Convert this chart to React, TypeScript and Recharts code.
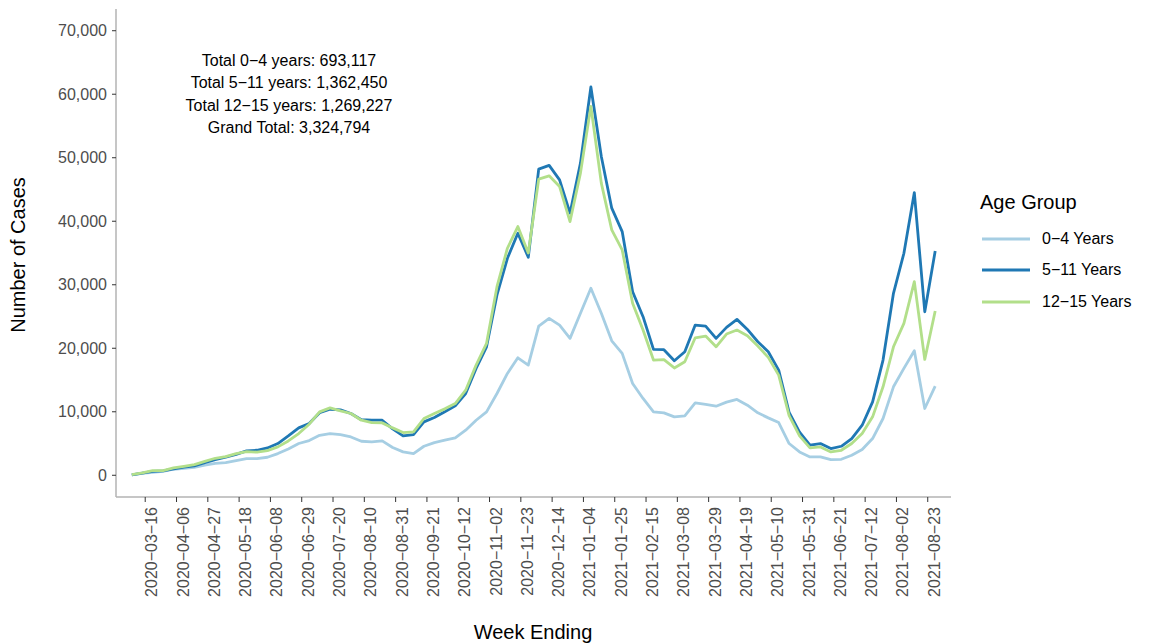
import { Line, LineChart, XAxis, YAxis } from "recharts"

const weekEnding = [
  "2020-03-07", "2020-03-14", "2020-03-21", "2020-03-28", "2020-04-04", "2020-04-11",
  "2020-04-18", "2020-04-25", "2020-05-02", "2020-05-09", "2020-05-16", "2020-05-23",
  "2020-05-30", "2020-06-06", "2020-06-13", "2020-06-20", "2020-06-27", "2020-07-04",
  "2020-07-11", "2020-07-18", "2020-07-25", "2020-08-01", "2020-08-08", "2020-08-15",
  "2020-08-22", "2020-08-29", "2020-09-05", "2020-09-12", "2020-09-19", "2020-09-26",
  "2020-10-03", "2020-10-10", "2020-10-17", "2020-10-24", "2020-10-31", "2020-11-07",
  "2020-11-14", "2020-11-21", "2020-11-28", "2020-12-05", "2020-12-12", "2020-12-19",
  "2020-12-26", "2021-01-02", "2021-01-09", "2021-01-16", "2021-01-23", "2021-01-30",
  "2021-02-06", "2021-02-13", "2021-02-20", "2021-02-27", "2021-03-06", "2021-03-13",
  "2021-03-20", "2021-03-27", "2021-04-03", "2021-04-10", "2021-04-17", "2021-04-24",
  "2021-05-01", "2021-05-08", "2021-05-15", "2021-05-22", "2021-05-29", "2021-06-05",
  "2021-06-12", "2021-06-19", "2021-06-26", "2021-07-03", "2021-07-10", "2021-07-17",
  "2021-07-24", "2021-07-31", "2021-08-07", "2021-08-14", "2021-08-21", "2021-08-28",
]

const age0to4 = [
  50, 300, 470, 630, 950, 1100, 1260, 1580, 1890, 1980, 2310, 2630, 2630, 2840, 3420, 4150,
  5000, 5470, 6300, 6570, 6400, 6040, 5360, 5250, 5410, 4370, 3680, 3420, 4570, 5150, 5520,
  5890, 7100, 8670, 9990, 12880, 16040, 18500, 17350, 23500, 24710, 23650, 21560, 25500,
  29440, 25500, 21180, 19190, 14460, 12100, 9990, 9830, 9200, 9360, 11400, 11150, 10880,
  11510, 11940, 11040, 9830, 9040, 8300, 5000, 3680, 2890, 2890, 2470, 2520, 3150, 4050,
  5780, 8940, 13930, 16830, 19600, 10520, 14040,
]

const age5to11 = [
  80, 350, 600, 700, 1000, 1300, 1470, 2000, 2470, 2850, 3300, 3850, 3940, 4300, 5000, 6200,
  7460, 8150, 9850, 10400, 10300, 9730, 8750, 8670, 8670, 7300, 6200, 6410, 8410, 9100, 9990,
  10930, 12880, 16830, 20230, 28390, 34170, 38100, 34330, 48200, 48790, 46520, 41270, 49150,
  61140, 50200, 42060, 38370, 28910, 24970, 19820, 19770, 18030, 19450, 23650, 23500, 21560,
  23290, 24550, 22970, 21030, 19450, 16560, 9900, 6800, 4730, 5000, 4210, 4570, 5780, 7880,
  11560, 18140, 28650, 34960, 44520, 25750, 35320,
]

const age12to15 = [
  120, 380, 740, 740, 1150, 1420, 1690, 2200, 2680, 2950, 3420, 3740, 3630, 3890, 4470, 5410,
  6570, 8040, 9990, 10610, 10140, 9730, 8670, 8300, 8250, 7460, 6730, 6830, 8940, 9730, 10460,
  11300, 13400, 17350, 20770, 29700, 35750, 39160, 35000, 46630, 47150, 45470, 39950, 47580,
  58090, 46000, 38640, 35480, 27080, 22870, 18140, 18200, 16900, 17870, 21650, 21920, 20230,
  22240, 22870, 21970, 20340, 18560, 15770, 9400, 6200, 4310, 4460, 3680, 3940, 5000, 6570,
  9200, 13930, 20230, 23920, 30490, 18240, 25860,
]

const tickDates = [
  "2020-03-16", "2020-04-06", "2020-04-27", "2020-05-18", "2020-06-08", "2020-06-29",
  "2020-07-20", "2020-08-10", "2020-08-31", "2020-09-21", "2020-10-12", "2020-11-02",
  "2020-11-23", "2020-12-14", "2021-01-04", "2021-01-25", "2021-02-15", "2021-03-08",
  "2021-03-29", "2021-04-19", "2021-05-10", "2021-05-31", "2021-06-21", "2021-07-12",
  "2021-08-02", "2021-08-23",
]

const yTicks = [0, 10000, 20000, 30000, 40000, 50000, 60000, 70000]

const totals = [
  "Total 0\u22124 years: 693,117",
  "Total 5\u221211 years: 1,362,450",
  "Total 12\u221215 years: 1,269,227",
  "Grand Total: 3,324,794",
]

const series = [
  { key: "a", name: "0\u22124 Years", color: "#a6cee3" },
  { key: "b", name: "5\u221211 Years", color: "#1f78b4" },
  { key: "c", name: "12\u221215 Years", color: "#b2df8a" },
]

const toDay = (d: string) => Date.parse(d + "T00:00:00Z") / 86400000

const data = weekEnding.map((d, i) => ({
  t: toDay(d),
  a: age0to4[i],
  b: age5to11[i],
  c: age12to15[i],
}))

const tickDays = tickDates.map(toDay)
const xDomain = [toDay(weekEnding[0]) - 10.6, toDay(weekEnding[weekEnding.length - 1]) + 10.6]

const font = "'Liberation Sans', Arial, Helvetica, sans-serif"

function XTick(props: any) {
  const { x, y, payload } = props
  const idx = tickDays.indexOf(payload.value)
  const label = (tickDates[idx] || "").replace(/-/g, "\u2212")
  return (
    <g transform={`translate(${x},${y})`}>
      <text transform="rotate(-90)" textAnchor="end" dy={12} fill="#4d4d4d" fontSize={16} fontFamily={font}>
        {label}
      </text>
    </g>
  )
}

function AgeLegend() {
  return (
    <div style={{ position: "absolute", left: 980, top: 189, fontFamily: font, color: "#000" }}>
      <div style={{ fontSize: 20, height: 26, lineHeight: "26px", marginBottom: 8 }}>Age Group</div>
      {series.map((s) => (
        <div key={s.key} style={{ display: "flex", alignItems: "center", height: 31.5 }}>
          <svg width={62} height={10}>
            <line x1={2} x2={50} y1={5} y2={5} stroke={s.color} strokeWidth={2.8} />
          </svg>
          <span style={{ fontSize: 16, whiteSpace: "nowrap" }}>{s.name}</span>
        </div>
      ))}
    </div>
  )
}

export default function App() {
  return (
    <div style={{ position: "absolute", left: 0, top: 0, width: 1161, height: 644, background: "#fff", fontFamily: font }}>
      <LineChart width={1161} height={644} data={data} margin={{ top: 9, right: 210, left: 0, bottom: 0 }}>
        <XAxis
          dataKey="t"
          type="number"
          domain={xDomain}
          ticks={tickDays}
          interval={0}
          height={147}
          tick={<XTick />}
          tickSize={5}
          tickMargin={5}
          axisLine={{ stroke: "#b3b3b3", strokeWidth: 1.5 }}
          tickLine={{ stroke: "#333333" }}
        />
        <YAxis
          type="number"
          domain={[-3420, 73420]}
          ticks={yTicks}
          interval={0}
          width={116}
          tickSize={4}
          tickMargin={5}
          tickFormatter={(v: number) => v.toLocaleString("en-US")}
          tick={{ fill: "#4d4d4d", fontSize: 16, fontFamily: font }}
          axisLine={{ stroke: "#b3b3b3", strokeWidth: 1.5 }}
          tickLine={{ stroke: "#333333" }}
        />
        {series.map((s) => (
          <Line
            key={s.key}
            type="linear"
            dataKey={s.key}
            name={s.name}
            stroke={s.color}
            strokeWidth={2.8}
            strokeLinejoin="round"
            dot={false}
            isAnimationActive={false}
          />
        ))}
      </LineChart>
      <AgeLegend />
      <div style={{ position: "absolute", left: 139, top: 50, width: 300, textAlign: "center", fontSize: 16, lineHeight: "22.3px", color: "#000" }}>
        {totals.map((t) => (
          <div key={t}>{t}</div>
        ))}
      </div>
      <div style={{ position: "absolute", left: 18, top: 255, transform: "translate(-50%, -50%) rotate(-90deg)", fontSize: 20, whiteSpace: "nowrap", color: "#000" }}>
        Number of Cases
      </div>
      <div style={{ position: "absolute", left: 533, top: 632, transform: "translate(-50%, -50%)", fontSize: 20, whiteSpace: "nowrap", color: "#000" }}>
        Week Ending
      </div>
    </div>
  )
}
